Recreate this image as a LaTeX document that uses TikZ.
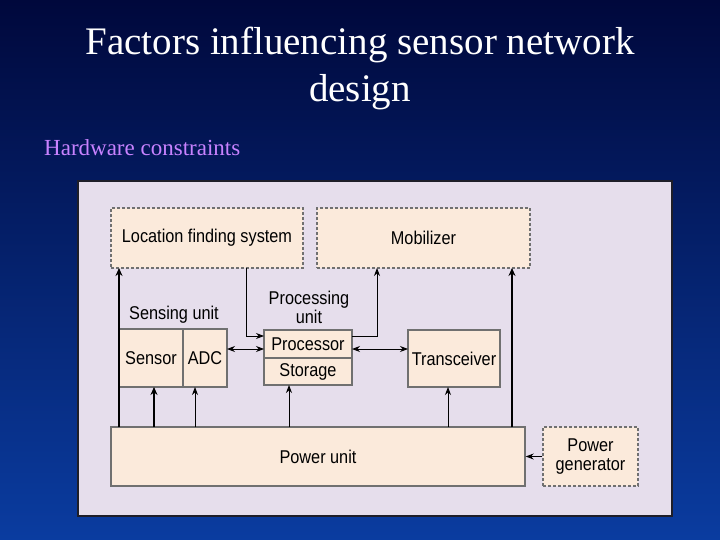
\documentclass[tikz,border=0pt]{standalone}
\usepackage{fontspec}
\setmainfont{Liberation Serif}
\newfontfamily\diag{Liberation Sans}[FakeStretch=0.88]
\usetikzlibrary{arrows.meta}
\definecolor{boxfill}{HTML}{FBEADB}
\definecolor{panel}{HTML}{E6DEEC}
\definecolor{edge}{HTML}{707070}
\begin{document}
\begin{tikzpicture}[x=1pt,y=-1pt,
  box/.style={draw=edge,line width=1.4pt,fill=boxfill},
  dbox/.style={draw=edge,line width=1.2pt,dashed,dash pattern=on 3pt off 2pt,fill=boxfill},
  lab/.style={font=\diag\fontsize{18.5}{19}\selectfont,text=black,align=center,inner sep=0pt},
  ar/.style={-{Stealth[length=8pt,width=6pt]},line width=0.9pt},
  tar/.style={-{Stealth[length=8pt,width=7pt]},line width=2pt},
  dar/.style={{Stealth[length=8pt,width=6pt]}-{Stealth[length=8pt,width=6pt]},line width=0.9pt}]
\useasboundingbox (0,0) rectangle (720,540);
\shade[top color={rgb,255:red,0;green,8;blue,60},bottom color={rgb,255:red,10;green,60;blue,160}] (0,0) rectangle (720,540);
\node[text=white,font=\fontsize{39}{47}\selectfont,align=center] (title) at (360,68) {Factors influencing sensor network\\design};
\node[anchor=west,text={rgb,255:red,200;green,130;blue,255},font=\fontsize{23}{26}\selectfont,inner sep=0pt] (sub) at (44,148) {Hardware constraints};
\draw[fill=panel,draw={rgb,255:red,30;green,30;blue,40},line width=1.5pt] (78,181) rectangle (672,516);
\node[dbox,minimum width=192pt,minimum height=60pt] (loc) at (207,238) {};
\node[lab] at (loc) {Location finding system};
\node[dbox,minimum width=213pt,minimum height=60pt] (mob) at (423.5,238) {};
\node[lab] at (mob) {Mobilizer};
\node[box,minimum width=64pt,minimum height=58pt] (sen) at (151,358) {};
\node[lab] at (sen) {Sensor};
\node[box,minimum width=44pt,minimum height=58pt] (adc) at (205,358) {};
\node[lab] at (adc) {ADC};
\node[box,minimum width=88pt,minimum height=28pt] (proc) at (308,344) {};
\node[lab] at (proc) {Processor};
\node[box,minimum width=88pt,minimum height=27pt] (stor) at (308,371.5) {};
\node[lab] at (stor) {Storage};
\node[box,minimum width=92pt,minimum height=57pt] (trx) at (454,358.5) {};
\node[lab] at (trx) {Transceiver};
\node[box,minimum width=414pt,minimum height=59pt] (pow) at (318,456.5) {};
\node[lab] at (pow) {Power unit};
\node[dbox,minimum width=95pt,minimum height=59pt] (gen) at (590.5,456.5) {};
\node[lab] at (gen) {Power\\generator};
\node[lab] (sl) at (174,315) {Sensing unit};
\node[lab] (pl) at (309,307) {Processing\\unit};
\draw[tar] (119,427) -- (119,268);
\draw[tar] (154,427) -- (154,387);
\draw[ar] (195,427) -- (195,387);
\draw[ar] (289,427) -- (289,385);
\draw[ar] (448,427) -- (448,387);
\draw[tar] (512,427) -- (512,268);
\draw[ar] (246,268) |- (264,336);
\draw[dar] (227,349) -- (264,349);
\draw[dar] (352,349) -- (408,349);
\draw[ar] (352,336) -| (377,268);
\draw[ar] (gen.west) -- (pow.east);
\end{tikzpicture}
\end{document}
